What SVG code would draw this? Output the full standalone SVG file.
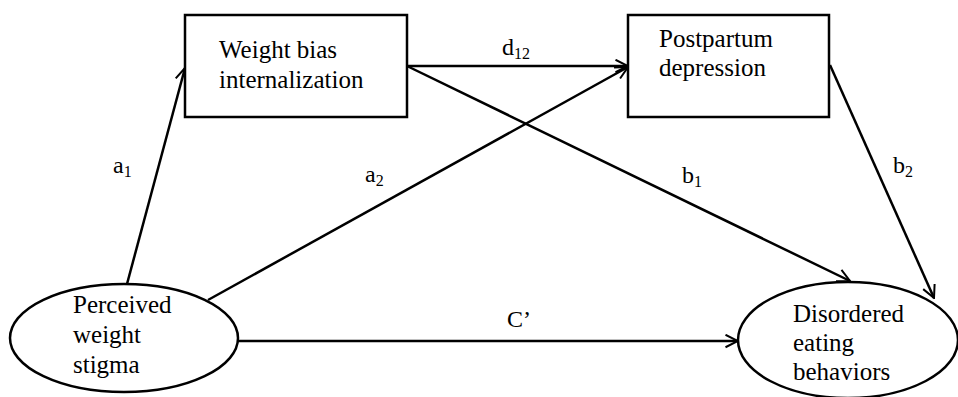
<svg xmlns="http://www.w3.org/2000/svg" width="958" height="397" viewBox="0 0 958 397">
<style>
.n{fill:#fff;stroke:#000;stroke-width:2.5}
.t{font-family:"Liberation Serif","Times New Roman",serif;font-size:25px;fill:#000}
.l{font-family:"Liberation Serif","Times New Roman",serif;font-size:24px;fill:#000}
.s{font-size:16px}
.c{stroke:#000;stroke-width:2.5;fill:none;marker-end:url(#ah)}
</style>
<defs>
<marker id="ah" viewBox="0 0 12 12" refX="11" refY="6" markerWidth="6" markerHeight="6" markerUnits="strokeWidth" orient="auto">
<path d="M1,1 L11,6 L1,11" fill="none" stroke="#000" stroke-width="1.6"/>
</marker>
</defs>
<rect width="958" height="397" fill="#fff"/>
<g id="connectors">
<line class="c" x1="127" y1="284" x2="185" y2="68"/>
<line class="c" x1="208" y1="300" x2="628" y2="67"/>
<line class="c" x1="407" y1="66" x2="628" y2="66"/>
<line class="c" x1="407" y1="66" x2="850" y2="281"/>
<line class="c" x1="830" y1="65" x2="934" y2="298"/>
<line class="c" x1="238" y1="341" x2="738" y2="341"/>
<text class="l" x="113" y="173">a<tspan class="s" dy="4">1</tspan></text>
<text class="l" x="365" y="182">a<tspan class="s" dy="4">2</tspan></text>
<text class="l" x="682" y="183">b<tspan class="s" dy="4">1</tspan></text>
<text class="l" x="893" y="173">b<tspan class="s" dy="4">2</tspan></text>
<text class="l" x="502" y="55">d<tspan class="s" dy="4">12</tspan></text>
<text class="l" x="507" y="327">C’</text>
</g>
<g id="wbi">
<rect class="n" x="185" y="15" width="222" height="102"/>
<text class="t" x="219" y="58">Weight bias</text>
<text class="t" x="219" y="88">internalization</text>
</g>
<g id="pd">
<rect class="n" x="628" y="15" width="201" height="102"/>
<text class="t" x="659" y="47">Postpartum</text>
<text class="t" x="659" y="76">depression</text>
</g>
<g id="pws">
<ellipse class="n" cx="124" cy="338" rx="114" ry="54"/>
<text class="t" x="73" y="313">Perceived</text>
<text class="t" x="73" y="343">weight</text>
<text class="t" x="73" y="373">stigma</text>
</g>
<g id="deb">
<ellipse class="n" cx="848" cy="340" rx="110" ry="58"/>
<text class="t" x="793" y="322">Disordered</text>
<text class="t" x="793" y="351">eating</text>
<text class="t" x="793" y="380">behaviors</text>
</g>
</svg>
